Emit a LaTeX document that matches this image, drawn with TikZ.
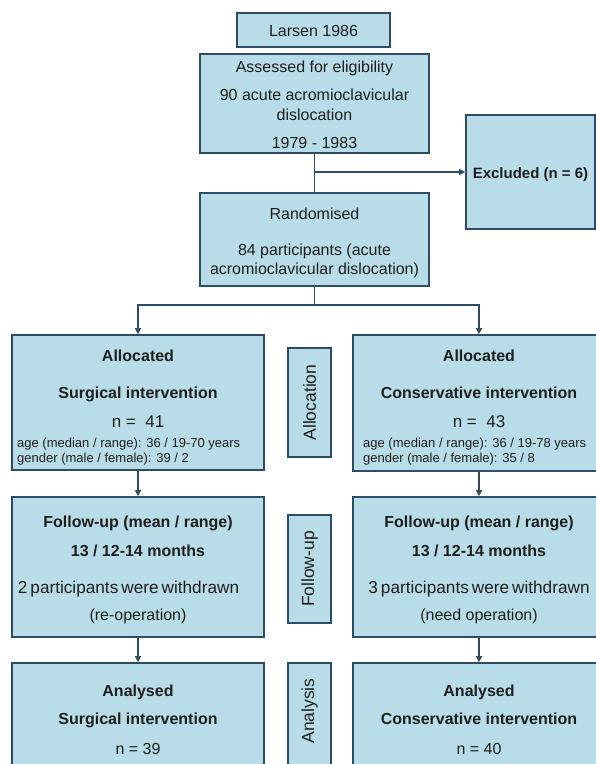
\documentclass[tikz,border=0pt]{standalone}
\usepackage{fontspec}
\setmainfont{Liberation Sans}
\usetikzlibrary{arrows.meta,fit}
\definecolor{boxfill}{RGB}{185,221,232}
\definecolor{boxline}{RGB}{46,76,102}
\definecolor{inkc}{RGB}{30,30,30}
\newcommand\tightsp{\spaceskip=3pt plus 1pt minus 1pt\relax}
\begin{document}
\begin{tikzpicture}[x=1pt,y=-1pt,
  box/.style={draw=boxline, fill=boxfill, line width=1.7pt, inner sep=0pt},
  tx/.style={text=inkc, inner sep=0pt, anchor=base, font=\fontsize{16}{19}\selectfont},
  wtx/.style={text=inkc, inner sep=0pt, anchor=base, font=\fontsize{17.2}{20}\selectfont\tightsp},
  btx/.style={text=inkc, inner sep=0pt, anchor=base, font=\fontsize{16}{19}\selectfont\bfseries},
  ebtx/.style={text=inkc, inner sep=0pt, anchor=base, font=\fontsize{15}{18}\selectfont\bfseries},
  stx/.style={text=inkc, inner sep=0pt, anchor=base west, font=\fontsize{13}{15}\selectfont},
  ntx/.style={text=inkc, inner sep=0pt, anchor=base, font=\fontsize{17}{20}\selectfont},
  ltx/.style={text=inkc, inner sep=0pt, rotate=90, font=\fontsize{17.5}{20}\selectfont},
  conn/.style={draw=boxline, line width=1.6pt},
  arr/.style={conn, -{Triangle[length=6pt,width=6pt]}}]
\useasboundingbox (0,0) rectangle (596,764);
\fill[white] (0,0) rectangle (596,764);
\clip (0,0) rectangle (596,764);

% boxes
\node[box, fit={(237,13) (390,47)}] (larsen) {};
\node[box, fit={(200,54) (429,153)}] (assess) {};
\node[box, fit={(200,193) (429,286)}] (rand) {};
\node[box, fit={(466,115) (595,229)}] (excl) {};
\node[box, fit={(12,335) (264,470)}] (allocL) {};
\node[box, fit={(353,335) (605,471)}] (allocR) {};
\node[box, fit={(288,348) (331,457)}] (allocLab) {};
\node[box, fit={(12,497) (264,637)}] (fuL) {};
\node[box, fit={(353,497) (605,637)}] (fuR) {};
\node[box, fit={(288,515) (331,623)}] (fuLab) {};
\node[box, fit={(12,663) (264,800)}] (anL) {};
\node[box, fit={(353,663) (605,800)}] (anR) {};
\node[box, fit={(288,663) (331,771)}] (anLab) {};

% connectors
\draw[conn] (assess.south) -- (rand.north);
\coordinate (exbr) at (assess.south |- excl.west);
\draw[arr] (exbr) -- (excl.west);
\coordinate (lvl) at (0,305);
\coordinate (split) at (rand.south |- lvl);
\draw[conn] (rand.south) -- (split);
\draw[arr] (split) -| (allocL.north);
\draw[arr] (split) -| (allocR.north);
\draw[arr] (allocL.south) -- (fuL.north);
\draw[arr] (allocR.south) -- (fuR.north);
\draw[arr] (fuL.south) -- (anL.north);
\draw[arr] (fuR.south) -- (anR.north);

% texts top
\node[tx] (tLarsen) at (313.5,36) {Larsen 1986};
\node[tx] (tA1) at (314.5,72) {Assessed for eligibility};
\node[tx] (tA2) at (314.5,100) {90 acute acromioclavicular};
\node[tx] (tA3) at (314.5,120) {dislocation};
\node[tx] (tA4) at (314.5,148) {1979 - 1983};
\node[tx] (tR1) at (314.5,219) {Randomised};
\node[tx] (tR2) at (314.5,255) {84 participants (acute};
\node[tx] (tR3) at (314.5,274) {acromioclavicular dislocation)};
\node[ebtx] (tEx) at (530.5,178) {Excluded (n = 6)};

% left column
\node[btx] (tL1) at (138,361) {Allocated};
\node[btx] (tL2) at (138,398) {Surgical intervention};
\node[ntx] (tL3) at (138,427) {n =\ \ 41};
\node[stx] (tL4) at (17,447) {age (median / range): 36 / 19-70 years};
\node[stx] (tL5) at (17,462) {gender (male / female): 39 / 2};
\node[btx] (tL6) at (138,527) {Follow-up (mean / range)};
\node[btx] (tL7) at (138,556) {13 / 12-14 months};
\node[wtx] (tL8) at (128.5,593) {2 participants were withdrawn};
\node[tx] (tL9) at (138,620) {(re-operation)};
\node[btx] (tL10) at (138,696) {Analysed};
\node[btx] (tL11) at (138,724) {Surgical intervention};
\node[tx] (tL12) at (138,754) {n = 39};

% right column
\node[btx] (tR4) at (479,361) {Allocated};
\node[btx] (tR5) at (479,398) {Conservative intervention};
\node[ntx] (tR6) at (479,427) {n =\ \ 43};
\node[stx] (tR7) at (363,447) {age (median / range): 36 / 19-78 years};
\node[stx] (tR8) at (363,462) {gender (male / female): 35 / 8};
\node[btx] (tR9) at (479,527) {Follow-up (mean / range)};
\node[btx] (tR10) at (479,556) {13 / 12-14 months};
\node[wtx] (tR11) at (479,593) {3 participants were withdrawn};
\node[tx] (tR12) at (479,620) {(need operation)};
\node[btx] (tR13) at (479,696) {Analysed};
\node[btx] (tR14) at (479,724) {Conservative intervention};
\node[tx] (tR15) at (479,754) {n = 40};

% side labels
\node[ltx] (lAlloc) at (allocLab.center) {Allocation};
\node[ltx] (lFu) at (fuLab.center) {Follow-up};
\node[ltx] (lAn) at (309.5,711) {Analysis};
\end{tikzpicture}
\end{document}
